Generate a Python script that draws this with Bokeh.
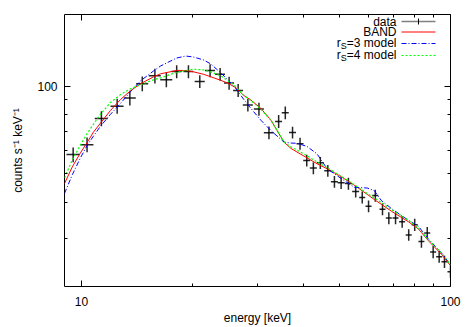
from bokeh.plotting import figure
from bokeh.models import (Range1d, LogAxis, FixedTicker, PrintfTickFormatter,
                          Label, Arrow, ColumnDataSource)
from bokeh.embed import file_html
from bokeh.resources import INLINE

# ---- data points (energy keV, half bin width keV, counts, counts error) ----
energy = [9.50, 10.36, 11.33, 12.50, 13.53, 14.62, 15.82, 16.99, 18.12, 19.50,
          20.93, 22.32, 23.76, 25.13, 26.59, 28.25, 30.27, 32.22, 34.23, 35.68,
          37.33, 39.12, 40.79, 42.51, 44.39, 46.52, 48.48, 50.55, 52.90, 55.35,
          57.66, 59.98, 62.55, 65.43, 68.07, 70.98, 73.97, 77.05, 79.99, 83.42,
          86.49, 89.75, 93.17, 96.31, 100.0]
energy_err = [0.39, 0.42, 0.46, 0.51, 0.51, 0.55, 0.59, 0.64, 0.57, 0.61,
              0.66, 0.70, 0.74, 0.79, 0.83, 0.88, 0.95, 1.01, 0.75, 0.78,
              0.82, 0.86, 0.89, 0.93, 0.97, 1.02, 1.06, 1.11, 1.16, 1.21,
              1.08, 1.13, 1.18, 1.23, 1.28, 1.33, 1.39, 1.45, 1.50, 1.57,
              1.63, 1.69, 1.75, 1.81, 1.88]
counts = [58.3, 63.1, 77.6, 85.7, 91.5, 102.4, 109.0, 105.7, 112.8, 112.8,
          104.3, 113.7, 110.5, 103.0, 97.1, 86.5, 83.7, 69.4, 75.9, 81.3,
          69.5, 63.6, 55.6, 52.4, 54.6, 51.3, 47.0, 46.6, 46.3, 43.5,
          41.5, 38.7, 42.1, 37.8, 35.2, 35.2, 34.2, 30.8, 33.4, 29.2,
          31.3, 26.9, 25.9, 24.9, 23.0]
counts_err = [3.4, 3.7, 4.6, 5.1, 5.4, 6.0, 6.4, 6.2, 5.8, 5.8,
              5.3, 5.8, 5.6, 5.3, 5.0, 4.4, 4.3, 3.5, 3.9, 4.1,
              3.3, 3.0, 2.6, 2.5, 2.6, 2.4, 2.2, 2.2, 2.2, 2.0,
              2.0, 1.8, 2.0, 1.8, 1.7, 1.7, 1.6, 1.4, 1.6, 1.4,
              1.5, 1.3, 1.2, 1.2, 1.1]

# ---- model curves ----
model_energy = [9.0, 9.45, 9.94, 10.38, 10.78, 11.26, 11.99, 12.76, 13.59, 14.47,
                15.69, 16.39, 18.12, 19.17, 20.15, 21.46, 22.42, 23.86, 24.94, 26.22,
                27.56, 28.80, 30.65, 32.63, 35.39, 36.98, 38.39, 40.87, 43.51, 46.32,
                50.56, 54.84, 59.49, 62.15, 64.94, 69.12, 76.89, 81.85, 87.15, 94.53,
                100.0]
band = [46.3, 52.9, 59.1, 64.4, 69.7, 74.8, 82.8, 90.3, 96.9, 102.4,
        108.2, 110.8, 113.8, 113.8, 112.5, 110.3, 108.2, 105.2, 102.8, 99.2,
        93.2, 89.9, 84.1, 76.6, 64.4, 61.2, 59.5, 56.8, 54.2, 52.1,
        48.9, 45.75, 42.5, 40.8, 39.3, 37.2, 34.2, 32.3, 29.4, 26.4,
        24.1]
rs3_model = [42.8, 49.7, 56.8, 62.9, 67.5, 73.0, 80.3, 87.5, 96.2, 104.8,
             113.4, 117.9, 125.6, 127.6, 126.6, 123.6, 119.8, 111.6, 105.7, 98.4,
             90.3, 84.1, 76.6, 70.5, 64.4, 63.9, 63.8, 62.2, 58.6, 52.1,
             48.2, 45.0, 44.7, 43.8, 40.5, 38.0, 34.6, 33.0, 29.8, 26.7,
             24.3]
rs4_model = [48.5, 55.9, 62.9, 69.1, 74.2, 80.3, 88.2, 93.9, 98.4, 101.6,
             105.7, 107.3, 112.1, 113.8, 114.9, 114.3, 112.5, 109.0, 104.8, 100.0,
             93.2, 89.6, 83.5, 76.6, 64.4, 61.9, 60.5, 57.7, 55.0, 52.5,
             49.1, 45.9, 42.8, 41.3, 39.9, 37.7, 34.6, 32.5, 29.6, 26.7,
             24.3]

# ---- ticks ----
x_major = [10, 100]
x_minor = [20, 30, 40, 50, 60, 70, 80, 90]
y_major = [100]
y_minor = [20, 30, 40, 50, 60, 70, 80, 90]

FONT = "Liberation Sans"

p = figure(width=467, height=327, x_axis_type="log", y_axis_type="log",
           x_range=Range1d(9.0, 100.0), y_range=Range1d(20.44, 177.5),
           output_backend="svg", toolbar_location=None,
           min_border_left=64, min_border_right=17, min_border_top=14,
           min_border_bottom=38)
p.grid.visible = False
p.outline_line_color = "black"
p.outline_line_width = 1
p.background_fill_color = "white"
p.border_fill_color = "white"


def style_axis(ax, ticker, show_labels):
    ax.ticker = ticker
    ax.formatter = PrintfTickFormatter(format="%d")
    ax.major_tick_in = 6
    ax.major_tick_out = 0
    ax.minor_tick_in = 3
    ax.minor_tick_out = 0
    ax.major_tick_line_color = "black"
    ax.minor_tick_line_color = "black"
    ax.axis_line_color = None
    ax.major_label_text_font = FONT
    if show_labels:
        ax.major_label_text_font_size = "12px"
        ax.major_label_text_color = "black"
    else:
        ax.major_label_text_font_size = "1px"
        ax.major_label_text_color = None
        ax.major_label_standoff = 0


xt = FixedTicker(ticks=x_major, minor_ticks=x_minor)
yt = FixedTicker(ticks=y_major, minor_ticks=y_minor)

xa = p.xaxis[0]
style_axis(xa, xt, True)
xa.major_label_standoff = 10
xa.axis_label = "energy [keV]"
xa.axis_label_text_font = FONT
xa.axis_label_text_font_size = "12px"
xa.axis_label_text_font_style = "normal"
xa.axis_label_text_color = "black"
xa.axis_label_standoff = 2

ya = p.yaxis[0]
style_axis(ya, yt, True)
ya.major_label_standoff = 7
ya.axis_label = "counts s\u207b\u00b9 keV\u207b\u00b9"
ya.axis_label_text_font = FONT
ya.axis_label_text_font_size = "12px"
ya.axis_label_text_font_style = "normal"
ya.axis_label_text_color = "black"
ya.axis_label_standoff = 9

top_ax = LogAxis()
style_axis(top_ax, FixedTicker(ticks=x_major, minor_ticks=x_minor), False)
p.add_layout(top_ax, "above")
right_ax = LogAxis()
style_axis(right_ax, FixedTicker(ticks=y_major, minor_ticks=y_minor), False)
p.add_layout(right_ax, "right")

# ---- data with error crosses ----
src = ColumnDataSource(dict(
    e=energy, c=counts,
    e_lo=[e - d for e, d in zip(energy, energy_err)],
    e_hi=[e + d for e, d in zip(energy, energy_err)],
    c_lo=[c - d for c, d in zip(counts, counts_err)],
    c_hi=[c + d for c, d in zip(counts, counts_err)],
))
p.segment(x0="e_lo", x1="e_hi", y0="c", y1="c", source=src,
          line_color="black", line_alpha=0.85, line_width=1.5)
p.segment(x0="e", x1="e", y0="c_lo", y1="c_hi", source=src,
          line_color="black", line_alpha=0.85, line_width=1.5)

# ---- models ----
p.line(model_energy, band, line_color="#ff0000", line_width=1)
p.line(model_energy, rs3_model, line_color="#0000ff", line_width=1,
       line_dash="5 2 1 2")
p.line(model_energy, rs4_model, line_color="#00ff00", line_width=1.2,
       line_dash="2 2")

# ---- key (label on the left, sample on the right), screen units of frame ----
# frame: left edge = page x 64, bottom edge = page y 289
def sx(px):
    return px - 64


def sy(py):
    return 289 - py


def key_text(txt, right_px, mid_py, size="12px"):
    p.add_layout(Label(x=sx(right_px), y=sy(mid_py), x_units="screen",
                       y_units="screen", text=txt, text_align="right",
                       text_baseline="middle", text_font=FONT,
                       text_font_size=size, text_color="black"))


def key_line(mid_py, color, dash="solid", width=1.0):
    p.add_layout(Arrow(x_start=sx(401), y_start=sy(mid_py), x_end=sx(435),
                       y_end=sy(mid_py), start_units="screen",
                       end_units="screen", start=None, end=None,
                       line_color=color, line_width=width, line_dash=dash))


key_text("data", 396, 24)
key_line(24, "#808080", width=1.5)
p.add_layout(Arrow(x_start=sx(418), y_start=sy(21), x_end=sx(418), y_end=sy(27),
                   start_units="screen", end_units="screen", start=None,
                   end=None, line_color="black", line_width=1))

key_text("BAND", 396, 34.5)
key_line(34.5, "#ff0000")

key_text("=3 model", 396, 45.5)
key_text("S", 346.3, 48.5, "9px")
key_text("r", 340.3, 45.5)
key_line(46, "#0000ff", "5 2 1 2")

key_text("=4 model", 396, 57)
key_text("S", 346.3, 60, "9px")
key_text("r", 340.3, 57)
key_line(58, "#00ff00", "2 2", 1.2)

open("out.html", "w").write(file_html(p, INLINE))
